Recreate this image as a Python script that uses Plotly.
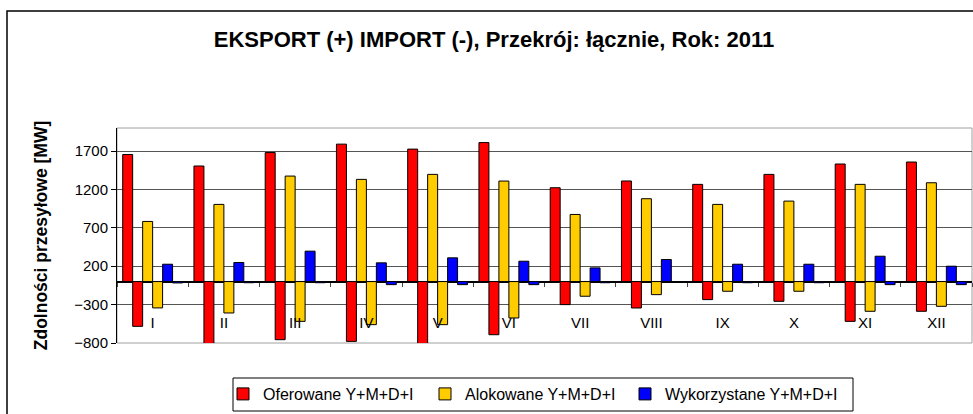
import plotly.graph_objects as go

months = ["I", "II", "III", "IV", "V", "VI", "VII", "VIII", "IX", "X", "XI", "XII"]

oferowane_eksport = [1655, 1505, 1680, 1790, 1725, 1810, 1222, 1310, 1266, 1396, 1531, 1557]
oferowane_import = [-583, -850, -757, -779, -850, -692, -300, -344, -235, -257, -518, -387]
alokowane_eksport = [783, 1005, 1374, 1331, 1396, 1309, 874, 1079, 1005, 1048, 1266, 1287]
alokowane_import = [-343, -409, -518, -561, -561, -474, -191, -170, -126, -126, -387, -322]
wykorzystane_eksport = [226, 248, 396, 244, 309, 265, 178, 287, 226, 226, 330, 200]
wykorzystane_import = [-18, -15, -15, -40, -40, -40, -15, -12, -15, -15, -40, -40]

series_names = ["Oferowane Y+M+D+I", "Alokowane Y+M+D+I", "Wykorzystane Y+M+D+I"]
colors = ["#FF0000", "#FFCC00", "#0000FF"]
y_ticks = [-800, -300, 200, 700, 1200, 1700]

FONT = "Arial, 'Liberation Sans', sans-serif"

L, R, T, B = 117, 1, 128, 71
W, H = 973, 414
pw, ph = W - L - R, H - T - B


def px_x(x):
    return (x - L) / pw


def px_y(y):
    return (T + ph - y) / ph


legend_ids = ["legend", "legend2", "legend3"]
legend_left = [223, 425, 625]

fig = go.Figure()
pairs = [
    (oferowane_eksport, oferowane_import),
    (alokowane_eksport, alokowane_import),
    (wykorzystane_eksport, wykorzystane_import),
]
for name, color, lid, (exp, imp) in zip(series_names, colors, legend_ids, pairs):
    for vals, show in ((exp, True), (imp, False)):
        fig.add_trace(go.Bar(
            x=months, y=vals, name=name, legendgroup=name, showlegend=show,
            legend=lid,
            marker=dict(color=color, line=dict(color="black", width=1)),
        ))

legend_layout = {}
for lid, lx in zip(legend_ids, legend_left):
    legend_layout[lid] = dict(
        orientation="h",
        x=px_x(lx), xanchor="left",
        y=px_y(377), yanchor="top",
        borderwidth=0, bgcolor="rgba(0,0,0,0)",
        font=dict(family=FONT, size=16, color="black"),
    )

fig.update_layout(
    width=W, height=H,
    margin=dict(l=L, r=R, t=T, b=B, autoexpand=False),
    paper_bgcolor="white", plot_bgcolor="white",
    barmode="group", bargap=0.16, bargroupgap=0,
    font=dict(family=FONT, color="black", size=15),
    title=dict(
        text="<b>EKSPORT (+) IMPORT (-), Przekrój: łącznie, Rok: 2011</b>",
        x=494 / W, xref="container", xanchor="center",
        y=1 - 39 / H, yref="container", yanchor="middle",
        font=dict(family=FONT, size=22, color="black"),
    ),
    showlegend=True,
    xaxis=dict(
        anchor="free", position=800 / 2800, automargin=False,
        showline=False, showgrid=False, zeroline=False,
        ticks="outside", ticklen=4, tickcolor="#444", tickson="boundaries",
        ticklabelstandoff=30,
        tickfont=dict(family=FONT, size=15, color="black"),
    ),
    yaxis=dict(
        range=[-800, 2000], automargin=False,
        tickvals=y_ticks,
        showline=True, linecolor="black", linewidth=1,
        ticks="outside", ticklen=5, tickcolor="black",
        showgrid=True, gridcolor="#555", gridwidth=1,
        zeroline=True, zerolinecolor="black", zerolinewidth=1.5,
        tickfont=dict(family=FONT, size=15, color="black"),
        title=dict(text="<b>Zdolności przesyłowe [MW]</b>", standoff=22,
                   font=dict(family=FONT, size=17.5, color="black")),
    ),
    shapes=[
        dict(type="rect", xref="paper", yref="paper", x0=0, x1=1, y0=0, y1=1,
             line=dict(color="#a0a0a0", width=1), layer="below"),
        dict(type="rect", xref="paper", yref="paper",
             x0=px_x(7), x1=1.05, y0=px_y(11), y1=-0.5,
             line=dict(color="black", width=1.5), layer="below"),
        dict(type="rect", xref="paper", yref="paper",
             x0=px_x(233), x1=px_x(853), y0=px_y(378), y1=px_y(411),
             line=dict(color="black", width=1), layer="below"),
    ],
    **legend_layout,
)

fig.write_html("out.html", config={"displayModeBar": False},
               post_script="document.body.style.margin='0';")
